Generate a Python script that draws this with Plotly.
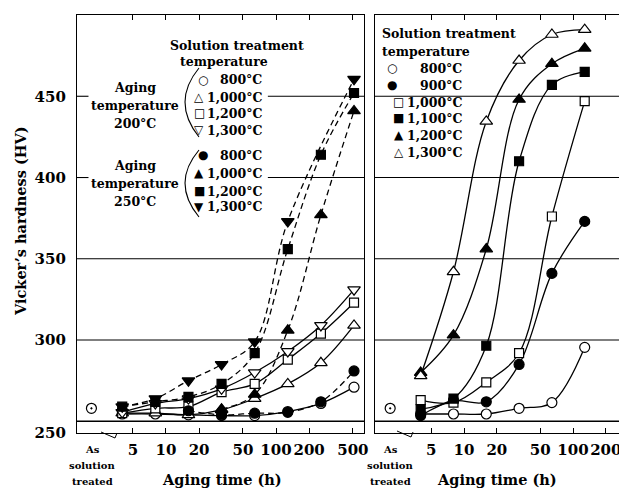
import math
import plotly.graph_objects as go

# ---------------- data ----------------
as_treated_time = 2.1          # position of the "as solution treated" point on the time axis (h)
as_treated_hv_left = 258
as_treated_hv_right = 258

left_times = [4, 8, 16, 32, 64, 128, 256, 512]
# Aging temperature 200°C (open markers, solid lines)
l200_800 = [254.5, 254.5, 254, 253.5, 253.5, 256, 261, 271]
l200_1000 = [255, 255, 254, 257, 264, 273, 286, 309]
l200_1200 = [255, 258, 259, 268, 273, 288, 304, 323]
l200_1300 = [255.5, 261, 264, 270, 280, 293, 309, 331]
# Aging temperature 250°C (filled markers, dashed lines)
l250_800 = [None, None, 256.5, 254, 255, 255.5, 262, 281]
l250_1000 = [None, None, None, 257.5, 266.5, 306, 377, 441]
l250_1200 = [259, 262, 265, 273, 292, 356, 414, 452]
l250_1300 = [259, 264, 275, 285, 299, 373, None, 460.5]

right_times = [4, 8, 16, 32, 64, 128]
r800 = [254.5, 254.5, 254.5, 258, 261.5, 295.5]
r900 = [253.5, 262.5, 262, 285, 341, 373]
r1000 = [263, 261.5, 274, 292, 376, 447]
r1100 = [257.5, 264, 296.5, 410, 457, 465]
r1200 = [280, 303, 356, 448, 470, 479.5]
r1300 = [278, 342, 434.5, 472, 488, 491]

left_tickvals = [5, 10, 20, 50, 100, 200, 500]
right_tickvals = [5, 10, 20, 50, 100, 200]
y_tick_labels = ["250", "300", "350", "400", "450", "500"]

# ---------------- layout helpers ----------------
# The page body has an 8px margin, so the figure is drawn 8px smaller and
# all target positions below are given in window pixels.
OFF = 8
WIN_W, WIN_H = 627, 492
PLOT_L, PLOT_T, PLOT_R, PLOT_B = 77, 15, 619, 433
W, H = WIN_W - OFF, WIN_H - OFF
ML, MT = PLOT_L - OFF, PLOT_T - OFF
MR, MB = WIN_W - PLOT_R, WIN_H - PLOT_B
PW, PH = PLOT_R - PLOT_L, PLOT_B - PLOT_T
YMIN, YMAX = 242.8, 500


def px(x):
    return (x - PLOT_L) / PW


def py(y):
    return (PLOT_B - y) / PH


FONT = "DejaVu Serif"
BLACK = "black"

fig = go.Figure()


def add_series(times, values, symbol, filled, dashed, xa, ya, size=10):
    fig.add_trace(go.Scatter(
        x=times, y=values, xaxis=xa, yaxis=ya,
        mode="lines+markers", connectgaps=True,
        line=dict(color=BLACK, width=1.3, shape="spline", smoothing=1.0,
                  dash="6px,4px" if dashed else "solid"),
        marker=dict(symbol=symbol, size=size,
                    color=BLACK if filled else "white",
                    line=dict(color=BLACK, width=1.2)),
        showlegend=False, hoverinfo="skip"))


# left panel
add_series(left_times, l200_800, "circle", False, False, "x", "y")
add_series(left_times, l200_1000, "triangle-up", False, False, "x", "y", 11)
add_series(left_times, l200_1200, "square", False, False, "x", "y", 9)
add_series(left_times, l200_1300, "triangle-down", False, False, "x", "y", 11)
add_series(left_times, l250_800, "circle", True, True, "x", "y")
add_series(left_times, l250_1000, "triangle-up", True, True, "x", "y", 11)
add_series(left_times, l250_1200, "square", True, True, "x", "y", 9)
add_series(left_times, l250_1300, "triangle-down", True, True, "x", "y", 11)

# right panel
add_series(right_times, r800, "circle", False, False, "x2", "y2")
add_series(right_times, r900, "circle", True, False, "x2", "y2")
add_series(right_times, r1000, "square", False, False, "x2", "y2", 9)
add_series(right_times, r1100, "square", True, False, "x2", "y2", 9)
add_series(right_times, r1200, "triangle-up", True, False, "x2", "y2", 11)
add_series(right_times, r1300, "triangle-up", False, False, "x2", "y2", 11)

# as solution treated points
for xa, ya, hv in (("x", "y", as_treated_hv_left), ("x2", "y2", as_treated_hv_right)):
    fig.add_trace(go.Scatter(
        x=[as_treated_time], y=[hv], xaxis=xa, yaxis=ya, mode="markers",
        marker=dict(symbol="circle-open-dot", size=10, color=BLACK,
                    line=dict(color=BLACK, width=1.2)),
        showlegend=False, hoverinfo="skip"))

shapes = []
# horizontal reference lines
for yv in (300, 350):
    for xr, yr in (("x domain", "y"), ("x2 domain", "y2")):
        shapes.append(dict(type="line", xref=xr, yref=yr, x0=0, x1=1, y0=yv, y1=yv,
                           line=dict(color=BLACK, width=1.1), layer="below"))
for xr, yr in (("x domain", "y"), ("x2 domain", "y2")):
    shapes.append(dict(type="line", xref=xr, yref=yr, x0=0, x1=1, y0=250, y1=250,
                       line=dict(color=BLACK, width=1.6), layer="below"))
for yv in (400, 450):
    shapes.append(dict(type="line", xref="x domain", yref="y", x0=0, x1=0.04, y0=yv, y1=yv,
                       line=dict(color=BLACK, width=1.1), layer="below"))
    shapes.append(dict(type="line", xref="x domain", yref="y", x0=0.665, x1=1, y0=yv, y1=yv,
                       line=dict(color=BLACK, width=1.1), layer="below"))
    shapes.append(dict(type="line", xref="x2 domain", yref="y2", x0=0, x1=1, y0=yv, y1=yv,
                       line=dict(color=BLACK, width=1.1), layer="below"))

# as-solution-treated tick marks on the bottom axis
for xr, yr in (("x", "y domain"), ("x2", "y2 domain")):
    lx = math.log10(as_treated_time)
    shapes.append(dict(type="line", xref=xr, yref=yr, x0=lx, x1=lx, y0=0, y1=0.013,
                       line=dict(color=BLACK, width=1)))

# axis break marks
shapes.append(dict(type="path", xref="paper", yref="paper",
                   path=f"M {px(101)},{py(432)} L {px(115)},{py(438)} L {px(117)},{py(433)}",
                   line=dict(color=BLACK, width=1)))
shapes.append(dict(type="path", xref="paper", yref="paper",
                   path=f"M {px(397)},{py(431)} L {px(411)},{py(437)} L {px(413)},{py(432)}",
                   line=dict(color=BLACK, width=1)))

# legend brackets
shapes.append(dict(type="path", xref="paper", yref="paper",
                   path=f"M {px(199)},{py(68)} Q {px(171)},{py(102)} {px(199)},{py(137)}",
                   line=dict(color=BLACK, width=1.1)))
shapes.append(dict(type="path", xref="paper", yref="paper",
                   path=f"M {px(199)},{py(150)} Q {px(171)},{py(183)} {px(199)},{py(217)}",
                   line=dict(color=BLACK, width=1.1)))

ann = []


def text(x, y, s, size=12.5, xanchor="center", angle=0):
    ann.append(dict(x=px(x), y=py(y), xref="paper", yref="paper", text=s, showarrow=False,
                    xanchor=xanchor, yanchor="middle", textangle=angle,
                    font=dict(family=FONT, size=size, color=BLACK, weight="bold")))


def sym(x, y, s, size=12):
    ann.append(dict(x=px(x), y=py(y), xref="paper", yref="paper", text=s, showarrow=False,
                    xanchor="center", yanchor="middle",
                    font=dict(family="DejaVu Sans", size=size, color=BLACK)))


# left legend
text(168, 45, "Solution treatment", xanchor="left")
text(178, 62, "temperature", xanchor="left")
for (s, t, yy, sx) in (("○", "800°C", 80, 203), ("△", "1,000°C", 97, 199), ("□", "1,200°C", 113, 199),
                       ("▽", "1,300°C", 130, 199), ("●", "800°C", 155, 203), ("▲", "1,000°C", 173, 199),
                       ("■", "1,200°C", 191, 199), ("▼", "1,300°C", 207, 199)):
    sym(sx, yy, s)
    text(264, yy, t, xanchor="right")
for (t, yy) in (("Aging", 87), ("temperature", 106), ("200°C", 124),
                ("Aging", 165), ("temperature", 183), ("250°C", 201)):
    text(135, yy, t)

# right legend
text(380, 33, "Solution treatment", xanchor="left")
text(380, 51, "temperature", xanchor="left")
for (s, t, yy, sx) in (("○", "800°C", 68, 392), ("●", "900°C", 85, 392), ("□", "1,000°C", 102, 399),
                       ("■", "1,100°C", 118, 399), ("▲", "1,200°C", 135, 399), ("△", "1,300°C", 152, 399)):
    sym(sx, yy, s)
    text(464, yy, t, xanchor="right")

# axis titles
text(20, 221, "Vicker’s hardness (HV)", size=14.5, angle=-90)
text(222, 479, "Aging time (h)", size=14.5)
text(497, 479, "Aging time (h)", size=14.5)

# as solution treated labels
for cx in (92, 390):
    text(cx, 449, "As", size=10)
    text(cx, 465, "solution", size=10)
    text(cx, 481, "treated", size=10)

tickfont = dict(family=FONT, size=15, color=BLACK, weight="bold")
axis_common = dict(showline=True, linecolor=BLACK, linewidth=1.3, mirror="allticks",
                   showgrid=False, zeroline=False, ticks="inside", ticklen=5,
                   tickcolor=BLACK, tickfont=tickfont, tickangle=0)

fig.update_layout(
    width=W, height=H,
    margin=dict(l=ML, r=MR, t=MT, b=MB, autoexpand=False),
    paper_bgcolor="white", plot_bgcolor="white",
    xaxis=dict(type="log", domain=[0, px(364)], range=[0.191, 2.8], anchor="y",
               tickvals=left_tickvals, ticktext=[str(v) for v in left_tickvals],
               ticklabelstandoff=3, **axis_common),
    yaxis=dict(domain=[0, 1], range=[YMIN, YMAX], anchor="x",
               tickvals=[YMIN, 300, 350, 400, 450, 500], ticktext=y_tick_labels,
               showline=True, linecolor=BLACK, linewidth=1.3, mirror=True,
               showgrid=False, zeroline=False, ticks="", tickfont=tickfont,
               ticklabelstandoff=7),
    xaxis2=dict(type="log", domain=[px(375), 1], range=[0.183, 2.422], anchor="y2",
                tickvals=right_tickvals, ticktext=[str(v) for v in right_tickvals],
                ticklabelstandoff=3, **axis_common),
    yaxis2=dict(domain=[0, 1], range=[YMIN, YMAX], anchor="x2",
                showline=True, linecolor=BLACK, linewidth=1.3, mirror=True,
                showgrid=False, zeroline=False, ticks="", showticklabels=False),
    shapes=shapes,
    annotations=ann,
)

fig.write_html("out.html")
